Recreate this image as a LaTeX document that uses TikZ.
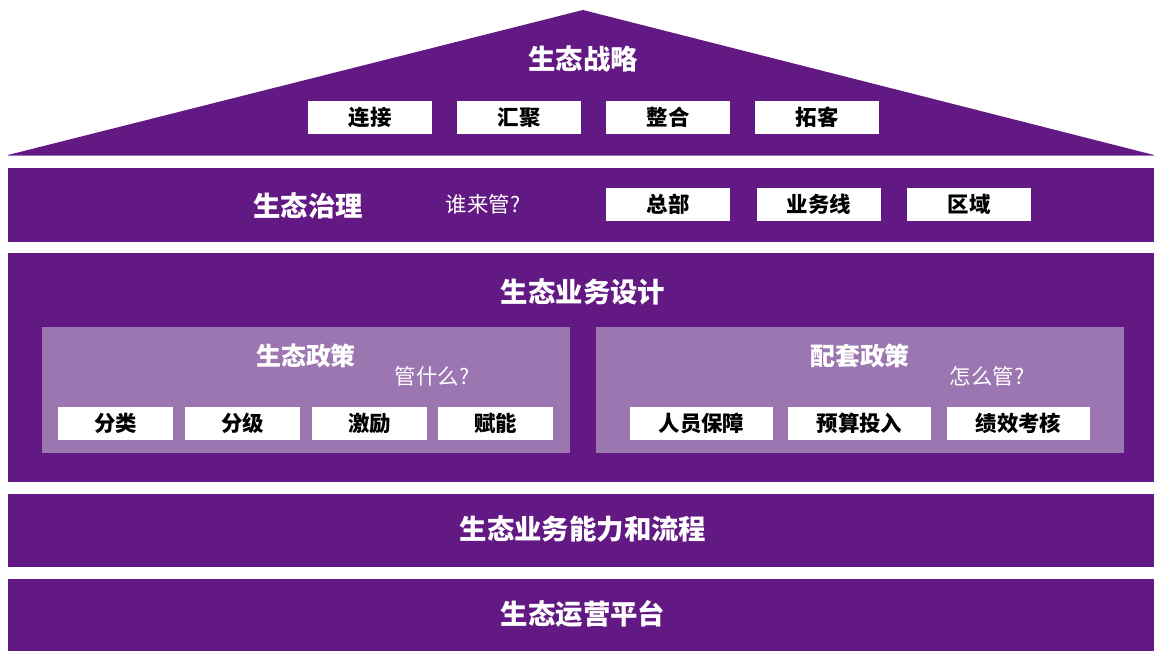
\documentclass[tikz,border=0pt]{standalone}
\usepackage{fontspec}
\setmainfont{Noto Sans CJK SC}
\definecolor{deep}{RGB}{98,25,131}
\definecolor{soft}{RGB}{155,118,176}
\tikzset{
  band/.style={fill=deep, draw=none},
  panel/.style={fill=soft, draw=none},
  wbox/.style={fill=white, draw=none, minimum height=33bp, inner sep=0pt, text=black, font=\fontsize{21.5}{21.5}\selectfont\bfseries},
  ttl/.style={text=white, inner sep=0pt, font=\fontsize{27.5}{27.5}\selectfont\bfseries},
  sub/.style={text=white, inner sep=0pt, font=\fontsize{25}{25}\selectfont\bfseries},
  ask/.style={text=white, inner sep=0pt, font=\fontsize{21.5}{21.5}\selectfont},
}
\begin{document}
\begin{tikzpicture}[x=1bp,y=-1bp]
\useasboundingbox (0,0) rectangle (1154,651);
% roof
\fill[deep] (8,155) -- (583,10) -- (1154,155) -- cycle;
\draw[soft, line width=0.8bp] (8,155) -- (1154,155);
\node[ttl] (strat) at (583,59) {生态战略};
\node[wbox, minimum width=124bp] (s1) at (370,117.5) {连接};
\node[wbox, minimum width=124bp] (s2) at (519,117.5) {汇聚};
\node[wbox, minimum width=124bp] (s3) at (668,117.5) {整合};
\node[wbox, minimum width=124bp] (s4) at (817,117.5) {拓客};
% governance
\fill[band] (8,168) rectangle (1154,242);
\node[ttl] (gov) at (308,206) {生态治理};
\node[ask] (govq) at (483,204) {谁来管?};
\node[wbox, minimum width=124bp] (g1) at (668,204.5) {总部};
\node[wbox, minimum width=124bp] (g2) at (819,204.5) {业务线};
\node[wbox, minimum width=124bp] (g3) at (969,204.5) {区域};
% business design
\fill[band] (8,253) rectangle (1154,482);
\node[ttl] (biz) at (583,292) {生态业务设计};
\fill[panel] (42,327) rectangle (570,453);
\fill[panel] (596,327) rectangle (1124,453);
\node[sub] (pol) at (306,356) {生态政策};
\node[ask] (polq) at (432,376) {管什么?};
\node[wbox, minimum width=115bp] (p1) at (115.5,423.5) {分类};
\node[wbox, minimum width=115bp] (p2) at (242.5,423.5) {分级};
\node[wbox, minimum width=115bp] (p3) at (369.5,423.5) {激励};
\node[wbox, minimum width=115bp] (p4) at (495.5,423.5) {赋能};
\node[sub] (sup) at (860,356) {配套政策};
\node[ask] (supq) at (987,376) {怎么管?};
\node[wbox, minimum width=143bp] (q1) at (701.5,423.5) {人员保障};
\node[wbox, minimum width=143bp] (q2) at (859.5,423.5) {预算投入};
\node[wbox, minimum width=143bp] (q3) at (1018.5,423.5) {绩效考核};
% capability
\fill[band] (8,494) rectangle (1154,567);
\node[ttl] (cap) at (583,529) {生态业务能力和流程};
% platform
\fill[band] (8,579) rectangle (1154,651);
\node[ttl] (plat) at (583,614) {生态运营平台};
\end{tikzpicture}
\end{document}
